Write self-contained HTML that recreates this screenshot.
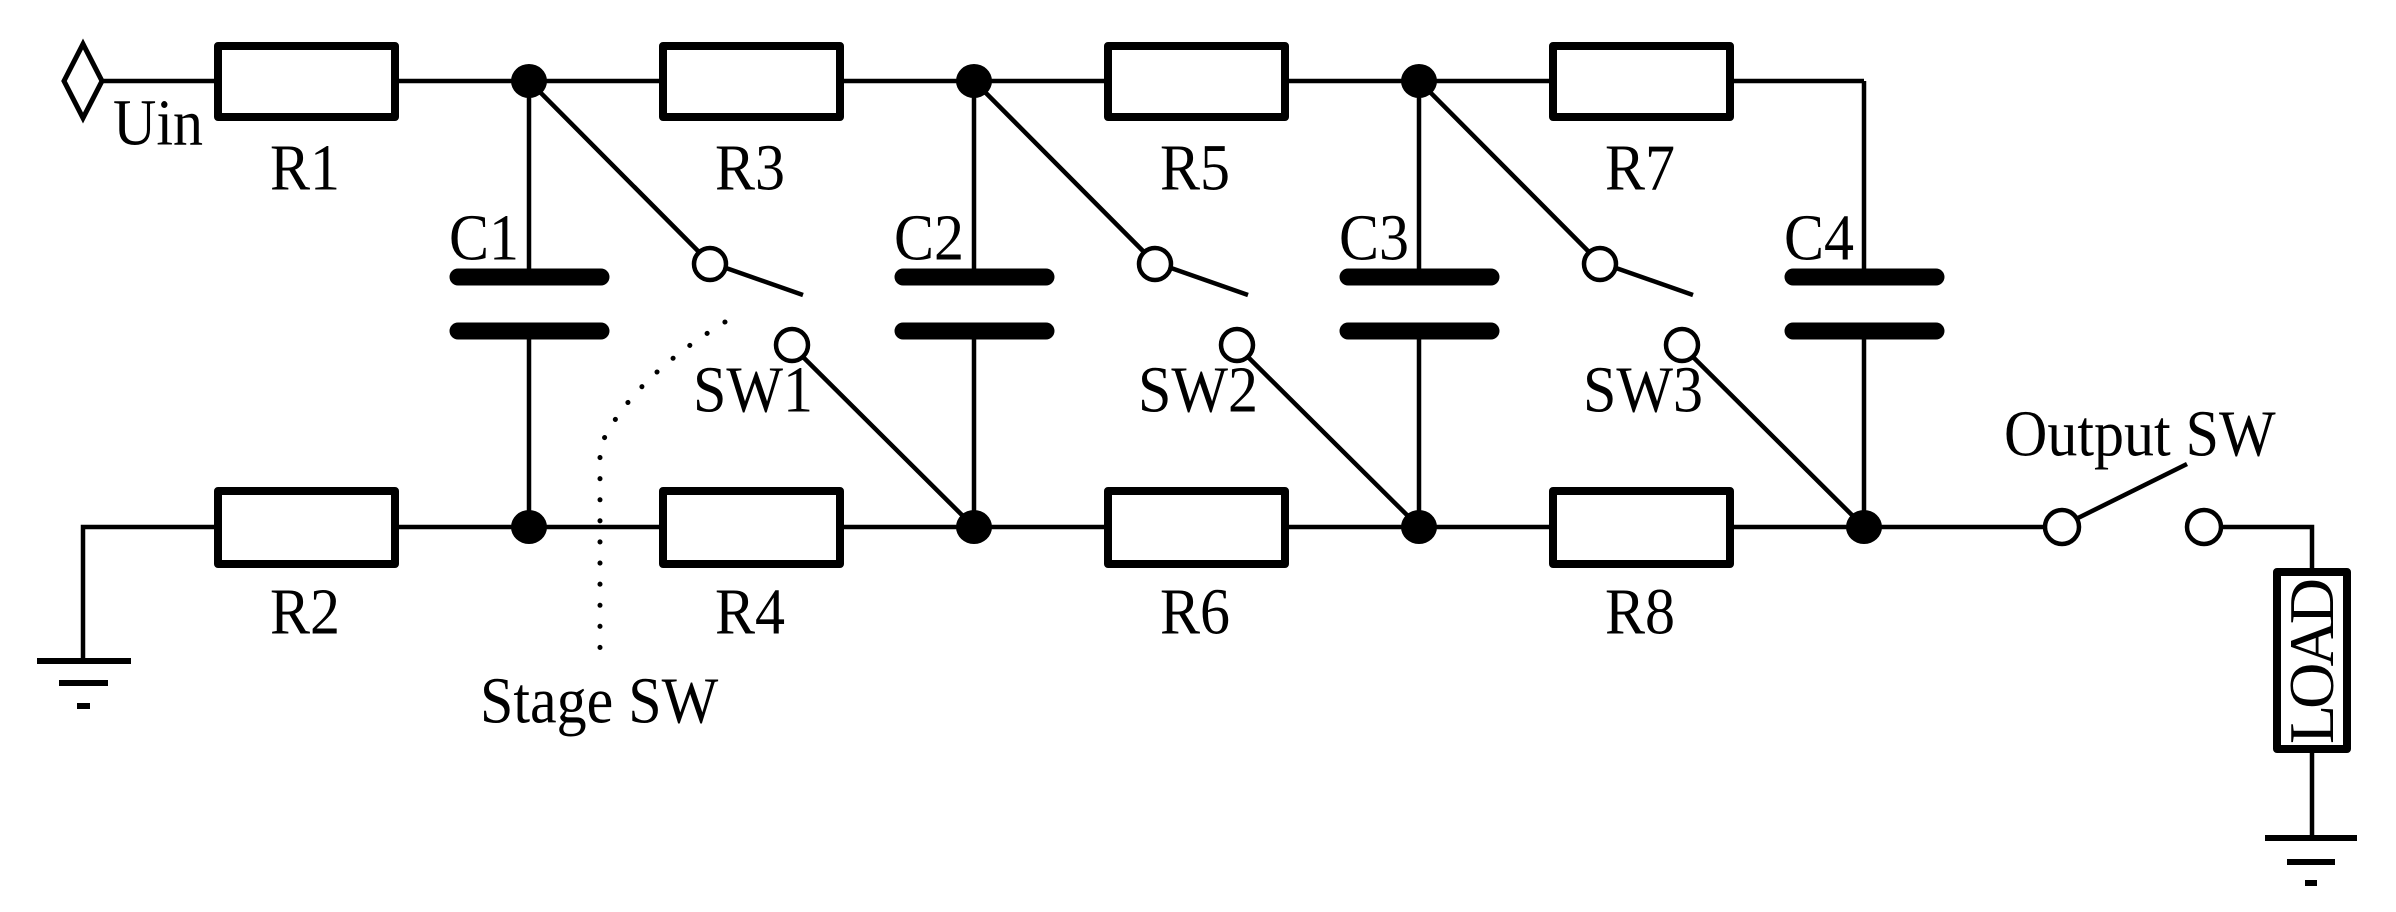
<!DOCTYPE html>
<html><head><meta charset="utf-8"><style>
html,body{margin:0;padding:0;background:#fff;}
svg{display:block;}
text{font-family:"Liberation Serif",serif;font-size:60px;fill:#000;}
text.s{transform-box:fill-box;transform-origin:50% 85%;transform:scaleY(1.1);}
</style></head><body>
<svg width="2396" height="912" viewBox="0 0 2396 912" xmlns="http://www.w3.org/2000/svg">
<g stroke="#000" stroke-width="4.5" fill="none">
  <polygon points="64,81 83,44 102,81 83,118" stroke-width="5"/>
  <line x1="102" y1="81" x2="1864" y2="81"/>
  <line x1="1864" y1="81" x2="1864" y2="277"/>
  <polyline points="83,661 83,527 2044,527"/>
  <line x1="529" y1="81" x2="529" y2="277"/><line x1="529" y1="331" x2="529" y2="527"/>
  <line x1="974" y1="81" x2="974" y2="277"/><line x1="974" y1="331" x2="974" y2="527"/>
  <line x1="1419" y1="81" x2="1419" y2="277"/><line x1="1419" y1="331" x2="1419" y2="527"/>
  <line x1="1864" y1="331" x2="1864" y2="527"/>
  <line x1="529" y1="81" x2="699" y2="252"/><line x1="726" y1="268" x2="803" y2="295"/><line x1="803" y1="357" x2="974" y2="527"/>
  <line x1="974" y1="81" x2="1144" y2="252"/><line x1="1171" y1="268" x2="1248" y2="295"/><line x1="1248" y1="357" x2="1419" y2="527"/>
  <line x1="1419" y1="81" x2="1589" y2="252"/><line x1="1616" y1="268" x2="1693" y2="295"/><line x1="1693" y1="357" x2="1864" y2="527"/>
  <circle cx="710" cy="264" r="16"/><circle cx="792" cy="345" r="16"/>
  <circle cx="1155" cy="264" r="16"/><circle cx="1237" cy="345" r="16"/>
  <circle cx="1600" cy="264" r="16"/><circle cx="1682" cy="345" r="16"/>
  <circle cx="2062" cy="527" r="17"/><circle cx="2204" cy="527" r="17"/>
  <line x1="2078" y1="518" x2="2187" y2="464"/>
  <polyline points="2221,527 2312,527 2312,573"/>
  <line x1="2312" y1="748" x2="2312" y2="838"/>
  <line x1="37" y1="661" x2="131" y2="661" stroke-width="6"/>
  <line x1="59" y1="683" x2="108" y2="683" stroke-width="6"/>
  <line x1="77" y1="706" x2="90" y2="706" stroke-width="6"/>
  <line x1="2265" y1="838" x2="2357" y2="838" stroke-width="6"/>
  <line x1="2287" y1="862" x2="2335" y2="862" stroke-width="6"/>
  <line x1="2305" y1="883" x2="2317" y2="883" stroke-width="6"/>
  <path d="M725,322 Q630,380 600,447 L600,655" stroke-width="5" stroke-dasharray="0.1 21" stroke-linecap="round"/>
</g>
<g stroke="#000" stroke-width="8" fill="#fff" stroke-linejoin="round">
  <rect x="218" y="46" width="177" height="71"/>
  <rect x="663" y="46" width="177" height="71"/>
  <rect x="1108" y="46" width="177" height="71"/>
  <rect x="1553" y="46" width="177" height="71"/>
  <rect x="218" y="491" width="177" height="73"/>
  <rect x="663" y="491" width="177" height="73"/>
  <rect x="1108" y="491" width="177" height="73"/>
  <rect x="1553" y="491" width="177" height="73"/>
  <rect x="2277" y="572" width="70" height="177"/>
</g>
<g stroke="#000" stroke-width="17" stroke-linecap="round">
  <line x1="458" y1="277" x2="601" y2="277"/><line x1="458" y1="331" x2="601" y2="331"/>
  <line x1="903" y1="277" x2="1046" y2="277"/><line x1="903" y1="331" x2="1046" y2="331"/>
  <line x1="1348" y1="277" x2="1491" y2="277"/><line x1="1348" y1="331" x2="1491" y2="331"/>
  <line x1="1793" y1="277" x2="1936" y2="277"/><line x1="1793" y1="331" x2="1936" y2="331"/>
</g>
<g fill="#000">
  <ellipse cx="529" cy="81" rx="18" ry="17"/><ellipse cx="974" cy="81" rx="18" ry="17"/><ellipse cx="1419" cy="81" rx="18" ry="17"/>
  <ellipse cx="529" cy="527" rx="18" ry="17"/><ellipse cx="974" cy="527" rx="18" ry="17"/><ellipse cx="1419" cy="527" rx="18" ry="17"/><ellipse cx="1864" cy="527" rx="18" ry="17"/>
</g>
<text class="s" x="113" y="145">Uin</text>
<text class="s" x="270" y="190">R1</text><text class="s" x="715" y="190">R3</text><text class="s" x="1160" y="190">R5</text><text class="s" x="1605" y="190">R7</text>
<text class="s" x="270" y="634">R2</text><text class="s" x="715" y="634">R4</text><text class="s" x="1160" y="634">R6</text><text class="s" x="1605" y="634">R8</text>
<text class="s" x="449" y="260">C1</text><text class="s" x="894" y="260">C2</text><text class="s" x="1339" y="260">C3</text><text class="s" x="1784" y="260">C4</text>
<text class="s" x="693" y="412">SW1</text><text class="s" x="1138" y="412">SW2</text><text class="s" x="1583" y="412">SW3</text>
<text class="s" x="480" y="723">Stage SW</text>
<text class="s" x="2004" y="456">Output SW</text>
<text transform="translate(2333,744) rotate(-90)" textLength="166" style="font-size:64px">LOAD</text>
</svg>
</body></html>
